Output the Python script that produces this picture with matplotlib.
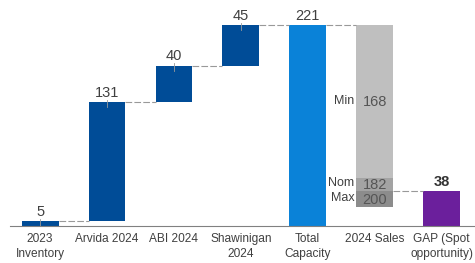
import matplotlib.pyplot as plt

plt.rcParams['font.family'] = ['Liberation Sans', 'DejaVu Sans']

# data
categories = ['2023\nInventory', 'Arvida 2024', 'ABI 2024', 'Shawinigan\n2024',
              'Total\nCapacity', '2024 Sales', 'GAP (Spot\nopportunity)']
steps = [5, 131, 40, 45]          # waterfall increments
total_capacity = 221
sales_names = ['Min', 'Nom', 'Max']
sales_values = [168, 182, 200]    # cumulative sales scenarios
gap_value = 38

dark_blue = '#004C97'
light_blue = '#0A82D8'
grays = ['#BFBFBF', '#A3A3A3', '#8C8C8C']
purple = '#6B1F9C'
txt = '#404040'
w = 0.55

fig = plt.figure(figsize=(4.75, 2.63), dpi=100)
ax = fig.add_axes([10 / 475, 37 / 263, 1 - 10 / 475, 218 / 263])

# waterfall steps
bottom = 0
tops = []
for i, v in enumerate(steps):
    ax.bar(i, v, bottom=bottom, width=w, color=dark_blue)
    ax.text(i, bottom + v + 3, str(v), ha='center', va='bottom', fontsize=10.5, color=txt)
    ax.plot([i, i], [bottom + v - 5, bottom + v + 3], color='#9a9a9a', lw=0.6)
    bottom += v
    tops.append(bottom)

# total
it = len(steps)
ax.bar(it, total_capacity, width=w, color=light_blue)
ax.text(it, total_capacity + 3, str(total_capacity), ha='center', va='bottom', fontsize=10.5, color=txt)
tops.append(total_capacity)

# sales stacked downward from total
isales = it + 1
prev = 0
for name, val, c in zip(sales_names, sales_values, grays):
    ax.bar(isales, val - prev, bottom=total_capacity - val, width=w, color=c)
    mid = total_capacity - (prev + val) / 2
    ax.text(isales, mid - 1, str(val), ha='center', va='center', fontsize=10.5, color='#555555')
    ax.text(isales - w / 2 - 0.03, mid + 1, name, ha='right', va='center', fontsize=9, color=txt)
    prev = val

# gap
igap = isales + 1
ax.bar(igap, gap_value, width=w, color=purple)
ax.text(igap, gap_value + 3, str(gap_value), ha='center', va='bottom', fontsize=10.5,
        color='#333333', fontweight='bold')

# connectors
for i in range(len(tops)):
    ax.plot([i + w / 2, i + 1 - w / 2], [tops[i], tops[i]], color='#999999', lw=0.8,
            ls=(0, (6, 2)))
lvl = total_capacity - sales_values[1]
ax.plot([isales + w / 2, igap - w / 2], [lvl, lvl], color='#999999', lw=0.8, ls=(0, (6, 2)))

ax.set_xlim(-0.45, 6.5)
ax.set_ylim(0, 240)
ax.set_xticks(range(len(categories)))
ax.set_xticklabels(categories, fontsize=8.6, color=txt, linespacing=1.3)
ax.tick_params(axis='x', length=0, pad=5)
ax.set_yticks([])
for s in ['top', 'right', 'left']:
    ax.spines[s].set_visible(False)
ax.spines['bottom'].set_color('#808080')

fig.savefig('out.png', dpi=100)
